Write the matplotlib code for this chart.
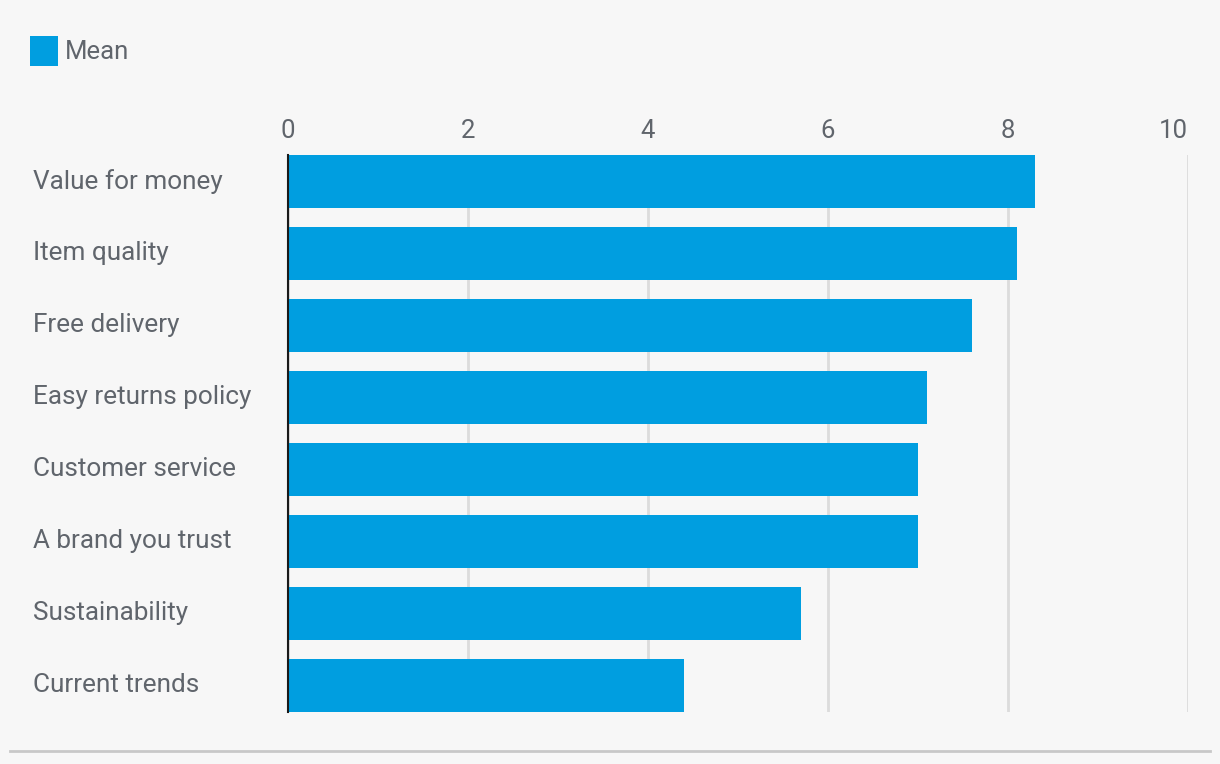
import matplotlib.pyplot as plt
import numpy as np
from matplotlib.lines import Line2D
from matplotlib.transforms import ScaledTranslation

plt.rcParams['font.family'] = ['Roboto', 'DejaVu Sans']

categories = ['Value for money', 'Item quality', 'Free delivery', 'Easy returns policy',
              'Customer service', 'A brand you trust', 'Sustainability', 'Current trends']
mean_vals = [8.3, 8.1, 7.6, 7.1, 7.0, 7.0, 5.7, 4.4]
xticks = [0, 2, 4, 6, 8, 10]

bg = '#f7f7f7'
blue = '#009ee0'
txt = '#60656c'

fig = plt.figure(figsize=(12.2, 7.64), dpi=100, facecolor=bg)
ax = fig.add_axes([288 / 1220, 1 - 712 / 764, 900 / 1220, 557 / 764])
ax.set_facecolor(bg)

y = np.arange(len(categories))
ax.barh(y, mean_vals, height=0.74, color=blue, label='Mean', zorder=3)

ax.set_xlim(0, 10)
ax.set_ylim(len(categories) - 1 + 0.37, -0.37)
ax.set_xticks(xticks)
ax.set_xticklabels([str(t) for t in xticks])
ax.xaxis.tick_top()
ax.tick_params(axis='x', length=0, pad=8.5, labelsize=18.5, labelcolor=txt)
ax.get_xticklabels()[-1].set_horizontalalignment('right')
ax.grid(axis='x', color='#dcdcdc', linewidth=2, zorder=0)

ax.set_yticks(y)
ax.set_yticklabels(categories)
ax.tick_params(axis='y', length=0, pad=183.6, labelsize=18.8, labelcolor=txt)
shift = ScaledTranslation(0, 3 / 100, fig.dpi_scale_trans)
for lab in ax.get_yticklabels():
    lab.set_horizontalalignment('left')
    lab.set_transform(lab.get_transform() + shift)

for s in ['top', 'right', 'bottom']:
    ax.spines[s].set_visible(False)
ax.spines['left'].set_color('#1a1a1a')
ax.spines['left'].set_linewidth(1.5)
ax.spines['left'].set_zorder(4)

leg = fig.legend(loc='upper left', bbox_to_anchor=(30 / 1220, 1 - 36 / 764), frameon=False,
                 fontsize=18.5, handlelength=1.1, handleheight=1.4, handletextpad=0.25,
                 borderpad=0, borderaxespad=0)
for t in leg.get_texts():
    t.set_color(txt)

fig.add_artist(Line2D([10 / 1220, 1210 / 1220], [1 - 751 / 764, 1 - 751 / 764],
                      transform=fig.transFigure, color='#c8c8c8', linewidth=2))

fig.savefig('out.png', dpi=100, facecolor=bg)
